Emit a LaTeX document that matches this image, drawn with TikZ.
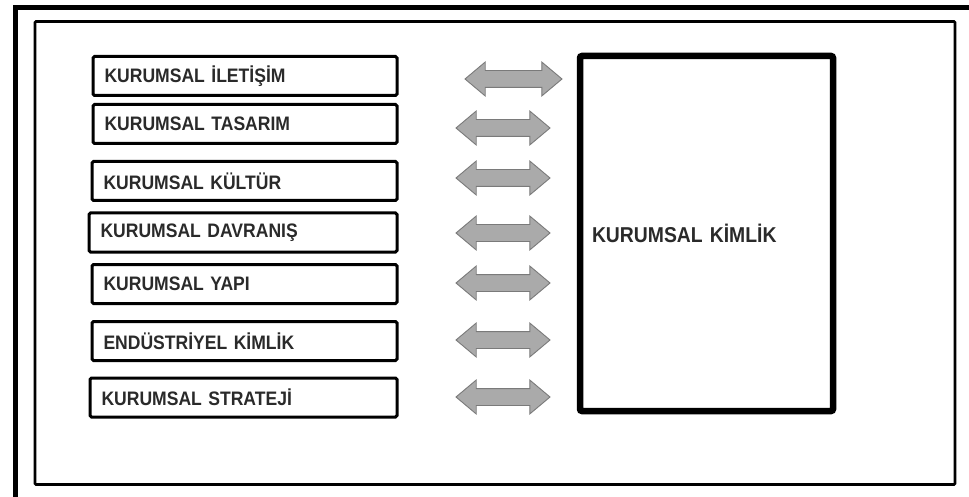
\documentclass[tikz,border=0pt]{standalone}
\usepackage{fontspec}
\setmainfont{Liberation Sans}
\newfontfamily\lblfont[FakeStretch=0.9]{Liberation Sans}
\usetikzlibrary{shapes.arrows}
\definecolor{txtc}{HTML}{2A2A2A}
\definecolor{arrfill}{HTML}{AAAAAA}
\definecolor{arrline}{HTML}{7A7A7A}
\begin{document}
\begin{tikzpicture}[x=1pt,y=-1pt,
  itembox/.style={draw=black, line width=3pt, rounded corners=1.5pt, anchor=west,
    minimum height=39pt, inner xsep=11.5pt, inner ysep=0pt, align=left,
    text=txtc, font=\lblfont\bfseries\fontsize{19.5}{21}\selectfont},
  bigbox/.style={draw=black, line width=6.5pt, rounded corners=2pt,
    minimum width=253pt, minimum height=355pt, inner xsep=12pt, inner ysep=0pt,
    text width=229pt, align=left, text=txtc,
    font=\lblfont\bfseries\fontsize{21.5}{24}\selectfont},
  dblarrow/.style={shape=double arrow, draw=arrline, fill=arrfill, line width=0.9pt,
    minimum width=33pt, double arrow head extend=8.5pt, double arrow tip angle=80,
    inner xsep=0pt, inner ysep=8pt}
]
\useasboundingbox (0,0) rectangle (969,497);
\fill[white] (0,0) rectangle (969,497);
% outer frame (top and left)
\draw[line width=5pt] (969,7.5) -- (15,7.5) -- (15,497);
% inner frame
\draw[line width=2.7pt, rounded corners=1pt] (35,21.5) rectangle (955,484.5);
% left boxes
\node[itembox, minimum width=304pt, text width=281pt] (b1) at (91.5,76) {KURUMSAL İLETİŞİM};
\node[itembox, minimum width=304pt, text width=281pt] (b2) at (91.5,124) {KURUMSAL TASARIM};
\node[itembox, minimum width=305pt, text width=282pt] (b3) at (90.5,181) {KURUMSAL KÜLTÜR};
\node[itembox, minimum width=308pt, text width=285pt] (b4) at (87.5,232.5) {KURUMSAL DAVRANIŞ};
\node[itembox, minimum width=305pt, text width=282pt] (b5) at (90.5,284) {KURUMSAL YAPI};
\node[itembox, minimum width=305pt, text width=282pt] (b6) at (90.5,341) {ENDÜSTRİYEL KİMLİK};
\node[itembox, minimum width=307pt, text width=284pt] (b7) at (88.5,397.5) {KURUMSAL STRATEJİ};
% big box
\node[bigbox] (kimlik) at (706.5,233.5) {KURUMSAL KİMLİK};
% double arrows
\node[dblarrow, minimum height=97pt] (a1) at (513.5,79) {};
\node[dblarrow, minimum height=94pt] (a2) at (503,128) {};
\node[dblarrow, minimum height=94pt] (a3) at (503,178) {};
\node[dblarrow, minimum height=94pt] (a4) at (503,233) {};
\node[dblarrow, minimum height=94pt] (a5) at (503,283) {};
\node[dblarrow, minimum height=94pt] (a6) at (503,340) {};
\node[dblarrow, minimum height=94pt] (a7) at (503,397) {};
\end{tikzpicture}
\end{document}
